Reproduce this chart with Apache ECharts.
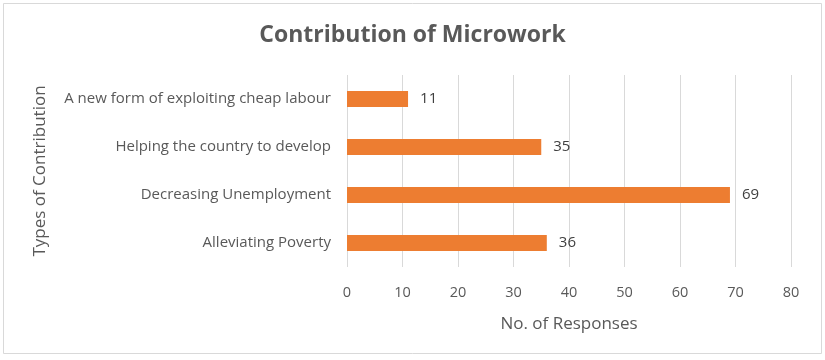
<!DOCTYPE html>
<html><head><meta charset="utf-8">
<script src="https://cdn.jsdelivr.net/npm/echarts@6/dist/echarts.min.js"></script>
<style>html,body{margin:0;padding:0;background:#fff}#c{width:825px;height:360px}</style>
</head><body><div id="c"></div>
<script>
const categories = ["Alleviating Poverty", "Decreasing Unemployment", "Helping the country to develop", "A new form of exploiting cheap labour"];
const values = [36, 69, 35, 11];
const xTicks = [0, 10, 20, 30, 40, 50, 60, 70, 80];

const chart = echarts.init(document.getElementById('c'), null, {renderer: 'canvas'});
const font = "'Open Sans', 'Noto Sans', sans-serif";
chart.setOption({
  animation: false,
  backgroundColor: '#fff',
  textStyle: {fontFamily: font},
  graphic: [{type: 'rect', shape: {x: 3.5, y: 3.5, width: 818, height: 350}, style: {fill: 'none', stroke: '#d9d9d9', lineWidth: 1}, silent: true}],
  title: {text: 'Contribution of Microwork', left: 'center', top: 19,
    textStyle: {fontFamily: font, fontSize: 23, fontWeight: 'bold', color: '#595959'}},
  grid: {left: 347, right: 34, top: 75, bottom: 93, containLabel: false},
  xAxis: {type: 'value', min: xTicks[0], max: xTicks[xTicks.length - 1], interval: 10,
    name: 'No. of Responses', nameLocation: 'middle', nameGap: 49,
    nameTextStyle: {fontFamily: font, fontSize: 17, color: '#595959'},
    axisLine: {show: false}, axisTick: {show: false},
    axisLabel: {fontFamily: font, fontSize: 14.5, color: '#595959', margin: 18},
    splitLine: {show: true, lineStyle: {color: '#d9d9d9', width: 1}}},
  yAxis: {type: 'category', data: categories,
    name: 'Types of Contribution', nameLocation: 'middle', nameGap: 298, nameRotate: 90,
    nameTextStyle: {fontFamily: font, fontSize: 17, color: '#595959'},
    axisLine: {show: false}, axisTick: {show: false},
    axisLabel: {fontFamily: font, fontSize: 15, color: '#595959', margin: 16}},
  series: [{type: 'bar', data: values, barWidth: 16,
    itemStyle: {color: '#ED7D31'},
    label: {show: true, position: 'right', distance: 12, fontFamily: font, fontSize: 15, color: '#404040'}}]
});
</script></body></html>
